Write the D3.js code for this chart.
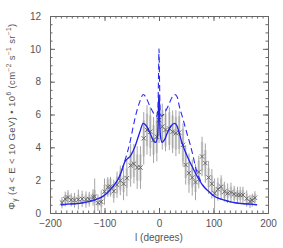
<!DOCTYPE html>
<html><head><meta charset="utf-8">
<script src="https://cdn.jsdelivr.net/npm/d3@7/dist/d3.min.js"></script>
<style>
body{margin:0;background:#fff;}
text{font-family:"Liberation Sans",Arial,sans-serif;fill:#555;}
</style></head>
<body><svg id="c" width="283" height="248"></svg>
<script>
// ---- data ----
const lData = [-178,-172,-167,-161,-155,-148,-141,-134,-128,-121,-118,-112,-106,-100,-94,-89,-83,-77,-71,-65,-59,-52,-46,-40,-34,-28,-22,-16,-10,-4,0,6,12,19,25,31,37,44,49,55,61,67,73,79,85,91,97,102,108,114,120,126,132,138,144,149,154,161,167,171,176];
const vData = [0.63,0.85,0.95,0.8,0.78,0.82,0.86,0.82,0.84,0.95,1.0,0.62,0.68,1.3,1.58,1.6,1.33,1.72,1.98,1.78,2.12,2.9,3.0,2.77,2.77,4.55,5.06,4.95,4.45,4.65,5.66,5.26,5.06,5.14,4.95,4.86,4.9,4.15,2.93,2.43,2.16,1.88,2.5,3.44,3.04,2.16,1.78,1.2,1.45,1.6,1.3,1.2,1.25,1.15,1.1,1.1,1.1,0.88,0.7,0.78,0.93];
const errStat = [0.35,0.45,0.45,0.4,0.45,0.6,0.5,0.5,0.45,0.5,1.1,0.5,0.7,0.8,0.6,0.6,0.7,0.8,0.9,1.0,1.1,1.3,1.2,1.3,1.3,1.6,1.5,1.5,1.4,1.5,1.4,1.4,1.3,1.3,1.3,1.4,1.3,1.3,1.2,1.2,1.1,1.1,1.0,1.2,1.2,1.0,0.9,0.9,0.7,0.7,0.6,0.6,0.6,0.5,0.5,0.5,0.5,0.5,0.4,0.4,0.4];
const errSys = [0.2,0.25,0.3,0.25,0.25,0.3,0.3,0.3,0.3,0.3,0.4,0.2,0.3,0.4,0.5,0.5,0.4,0.5,0.6,0.5,0.6,0.8,0.8,0.8,0.8,1.1,1.0,1.0,0.9,1.0,0.9,1.0,1.0,1.0,1.0,1.0,1.0,1.0,0.8,0.7,0.6,0.6,0.7,0.9,0.8,0.6,0.5,0.3,0.4,0.5,0.4,0.3,0.35,0.35,0.3,0.3,0.3,0.3,0.25,0.25,0.25];
const modelL  = [-180,-160,-140,-120,-100,-90,-80,-72,-68,-63,-58,-53,-48,-44,-40,-35,-29,-22,-15,-10,-6,-3,-1.5,-0.5,0,0.5,1.5,3,6,10,15,22,29,33,37,41,47,52,56,62,69,75,80,90,100,120,140,160,180];
const modelSolid = [0.5,0.55,0.62,0.78,1.08,1.4,1.8,2.25,2.6,3.1,3.3,3.45,3.75,4.05,4.45,4.95,5.46,5.25,4.75,4.4,4.3,4.6,5.5,7.2,7.2,7.2,5.5,4.6,4.3,4.45,4.85,5.3,5.46,5.3,4.9,4.4,3.84,3.45,3.15,2.75,2.3,1.95,1.7,1.35,1.05,0.78,0.62,0.55,0.5];
const dashL = [-180,-160,-140,-120,-100,-90,-80,-72,-68,-63,-58,-53,-48,-44,-40,-35,-29,-24,-18,-12,-7,-4,-2,-1,0,1,2,4,7,12,18,24,29,33,38,43,47,53,57,62,66,70,75,80,90,100,120,140,160,180];
const modelDash = [0.5,0.55,0.62,0.78,1.08,1.4,1.8,2.25,2.65,3.15,3.7,4.35,5.15,5.77,6.3,6.8,7.22,7.05,6.6,6.2,5.95,5.9,6.3,8.0,10.0,8.0,6.3,5.9,5.95,6.2,6.6,7.05,7.22,7.1,6.4,5.85,5.36,4.65,4.2,3.55,2.95,2.45,2.05,1.7,1.35,1.05,0.78,0.62,0.55,0.5];
const xTicks = [-200,-100,0,100,200];
const yTicks = [0,2,4,6,8,10,12];

// ---- layout ----
const svg = d3.select("#c");
const L=50, R=268, T=16, B=213;
const x = d3.scaleLinear().domain([-200,200]).range([L,R]);
const y = d3.scaleLinear().domain([0,12]).range([B,T]);
const axCol = "#666";

// error bars
const g = svg.append("g");
lData.forEach((l,i)=>{
  g.append("line").attr("x1",x(l)).attr("x2",x(l))
   .attr("y1",y(vData[i]-errSys[i])).attr("y2",y(vData[i]+errSys[i]))
   .attr("stroke","#d8d8d8").attr("stroke-width",2.5);
});
lData.forEach((l,i)=>{
  g.append("line").attr("x1",x(l)).attr("x2",x(l))
   .attr("y1",y(Math.max(0,vData[i]-errStat[i]))).attr("y2",y(vData[i]+errStat[i]))
   .attr("stroke","#9a9a9a").attr("stroke-width",0.9);
});
// crosses
const s=2.2;
lData.forEach((l,i)=>{
  const cx=x(l), cy=y(vData[i]);
  g.append("path").attr("d",`M${cx-s},${cy-s}L${cx+s},${cy+s}M${cx-s},${cy+s}L${cx+s},${cy-s}`)
   .attr("stroke","#606060").attr("stroke-width",0.9).attr("fill","none");
});

// model curves
const line = d3.line().curve(d3.curveMonotoneX);
svg.append("path").attr("d", line(modelL.map((l,i)=>[x(l),y(modelSolid[i])])))
  .attr("fill","none").attr("stroke","#2020e8").attr("stroke-width",1.3);
svg.append("path").attr("d", line(dashL.map((l,i)=>[x(l),y(modelDash[i])])))
  .attr("fill","none").attr("stroke","#2a2af0").attr("stroke-width",1.1).attr("stroke-dasharray","6,3.5");

// axes box with inward ticks
const axB = d3.axisBottom(x).tickValues(xTicks).tickSize(-5).tickPadding(7).tickFormat(d=>d<0?"\u2212"+Math.abs(d):d);
const axT = d3.axisTop(x).tickValues(xTicks).tickSize(-5).tickFormat("");
const axLft = d3.axisLeft(y).tickValues(yTicks).tickSize(-5).tickPadding(9);
const axRgt = d3.axisRight(y).tickValues(yTicks).tickSize(-5).tickFormat("");
const xMinor = d3.range(-200,201,10), yMinor = d3.range(0,12.01,0.5);
function style(sel){sel.select(".domain").attr("stroke",axCol).attr("stroke-width",1);
  sel.selectAll(".tick line").attr("stroke",axCol);
  sel.selectAll("text").attr("font-size",10).attr("fill","#555").attr("font-family","Liberation Sans, Arial, sans-serif");}
style(svg.append("g").attr("transform",`translate(0,${B})`).call(axB));
style(svg.append("g").attr("transform",`translate(0,${T})`).call(axT));
style(svg.append("g").attr("transform",`translate(${L},0)`).call(axLft));
style(svg.append("g").attr("transform",`translate(${R},0)`).call(axRgt));
style(svg.append("g").attr("transform",`translate(0,${B})`).call(d3.axisBottom(x).tickValues(xMinor).tickSize(-2.5).tickFormat("")));
style(svg.append("g").attr("transform",`translate(0,${T})`).call(d3.axisTop(x).tickValues(xMinor).tickSize(-2.5).tickFormat("")));
style(svg.append("g").attr("transform",`translate(${L},0)`).call(d3.axisLeft(y).tickValues(yMinor).tickSize(-2.5).tickFormat("")));
style(svg.append("g").attr("transform",`translate(${R},0)`).call(d3.axisRight(y).tickValues(yMinor).tickSize(-2.5).tickFormat("")));

// labels
svg.append("text").attr("x",(L+R)/2).attr("y",241).attr("text-anchor","middle").attr("font-size",10).text("l (degrees)");
const yl = svg.append("text").attr("transform",`translate(15,${(T+B)/2+2}) rotate(-90)`).attr("text-anchor","middle").attr("font-size",9.5).attr("letter-spacing",0.4);
yl.append("tspan").text("\u03A6");
yl.append("tspan").attr("font-size",6.5).attr("dy",2).text("\u03B3");
yl.append("tspan").attr("dy",-2).text(" (4 < E < 10 GeV) \u2022 10");
yl.append("tspan").attr("font-size",6.5).attr("dy",-4).text("6");
yl.append("tspan").attr("dy",4).text(" (cm");
yl.append("tspan").attr("font-size",6.5).attr("dy",-4).text("\u22122");
yl.append("tspan").attr("dy",4).text(" s");
yl.append("tspan").attr("font-size",6.5).attr("dy",-4).text("\u22121");
yl.append("tspan").attr("dy",4).text(" sr");
yl.append("tspan").attr("font-size",6.5).attr("dy",-4).text("\u22121");
yl.append("tspan").attr("dy",4).text(")");
</script></body></html>
